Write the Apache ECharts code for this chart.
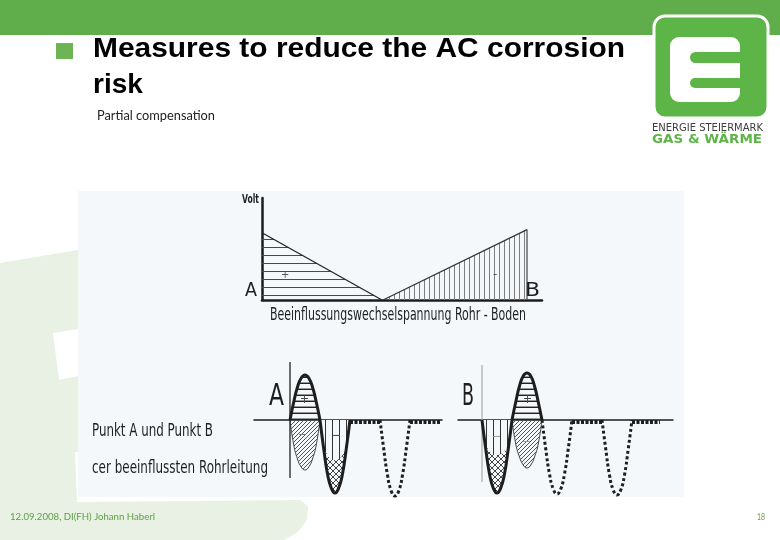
<!DOCTYPE html>
<html><head><meta charset="utf-8">
<script src="https://cdn.jsdelivr.net/npm/echarts@6/dist/echarts.min.js"></script>
<style>html,body{margin:0;padding:0;background:#fff}#c{width:780px;height:540px}</style>
</head><body><div id="c"></div>
<script>
// ---------- DATA ----------
// Top diagram: AC voltage pipe-soil along the pipeline (A -> B)
const distLeft = [0, 12];
const voltLeft = [6.6, 0];
const distRight = [12.1, 26.5];
const voltRight = [0, 6.9];
const distEnd = [26.5, 26.5];
const voltEnd = [0, 6.9];

// Bottom diagrams: half-wave sample positions (in half-period units)
const slot0 = [0, 0.125, 0.25, 0.375, 0.5, 0.625, 0.75, 0.875, 1];
const slot1 = [1, 1.125, 1.25, 1.375, 1.5, 1.625, 1.75, 1.875, 2];
const slot2 = [2, 2.125, 2.25, 2.375, 2.5, 2.625, 2.75, 2.875, 3];
const slot3 = [3, 3.125, 3.25, 3.375, 3.5, 3.625, 3.75, 3.875, 4];
const slot4 = [4, 4.125, 4.25, 4.375, 4.5, 4.625, 4.75, 4.875, 5];

// Point A
const aPlus       = [0, 18, 33, 42, 45, 42, 33, 18, 0];
const aComp       = [0, -25, -39, -47, -50, -47, -39, -25, 0];
const aMinus      = [0, -29, -54, -68, -73, -68, -54, -29, 0];
const aMinusUpper = [0, -26, -35, -39, -40, -39, -35, -26, 0];
const aDotMinus   = [0, -29, -55, -71, -76, -71, -55, -29, 0];
const aFlat1X = [2, 3],    aFlat1 = [-2, -2];
const aFlat2X = [4, 5.05], aFlat2 = [-2, -2];
const aAxisX = [0, 0], aAxisY = [58, -58];

// Point B
const bMinus      = [0, -29, -54, -68, -73, -68, -54, -29, 0];
const bMinusUpper = [0, -24, -31, -34, -35, -34, -31, -24, 0];
const bPlus       = [0, 18, 34, 44, 47, 44, 34, 18, 0];
const bComp       = [0, -24, -37, -45, -48, -45, -37, -24, 0];
const bDotMinus1  = [0, -29, -54, -69, -74, -69, -54, -29, 0];
const bDotMinus2  = [0, -29, -55, -70, -75, -70, -55, -29, 0];
const bFlat1X = [3, 4],    bFlat1 = [-2, -2];
const bFlat2X = [5, 5.93], bFlat2 = [-2, -2];
const bAxisX = [0, 0], bAxisY = [55, -62];

// ---------- helpers ----------
const SCAN_BG = '#f4f8fa';
function pts(xs, ys) { return xs.map((x, i) => [x, ys[i]]); }
function pattern(w, h, draw) {
  const c = document.createElement('canvas'); c.width = w; c.height = h;
  const g = c.getContext('2d'); draw(g, w, h);
  return { image: c, repeat: 'repeat' };
}
const hTop = pattern(8, 8, g => { g.fillStyle = '#4a4a4a'; g.fillRect(0, 7, 8, 1); });
const vTop = pattern(5, 5, g => { g.fillStyle = '#7d7d7d'; g.fillRect(4, 0, 1, 5); });
const hLobe = pattern(6, 6, g => { g.fillStyle = '#222'; g.fillRect(0, 5, 6, 1); g.fillStyle = '#999'; g.fillRect(0, 4, 6, 1); });
const diag = pattern(4, 4, g => { g.strokeStyle = '#555'; g.lineWidth = 1; g.beginPath(); g.moveTo(-1, 5); g.lineTo(5, -1); g.moveTo(-1, 1); g.lineTo(1, -1); g.moveTo(3, 5); g.lineTo(5, 3); g.stroke(); });
const cross = pattern(6, 6, g => { g.strokeStyle = '#444'; g.lineWidth = 1; g.beginPath();
  g.moveTo(-1, 7); g.lineTo(7, -1); g.moveTo(-1, -1); g.lineTo(7, 7); g.stroke(); });
const vLobe = pattern(7, 7, g => { g.fillStyle = SCAN_BG; g.fillRect(0, 0, 7, 7); g.fillStyle = '#333'; g.fillRect(3, 0, 1, 7); });

const mctx = document.createElement('canvas').getContext('2d');
function txt(text, x, y, font, fill, width, extra) {
  mctx.font = font;
  const w = mctx.measureText(text).width;
  return Object.assign({ type: 'text', x: x, y: y, scaleX: width ? width / w : 1, z: 50,
    style: { text: text, font: font, fill: fill, verticalAlign: 'middle', align: 'left' } }, extra || {});
}
const NARROW = '"Liberation Sans Narrow","DejaVu Sans Condensed",sans-serif';

function ln(xi, data, color, width, opts) {
  return Object.assign({ type: 'line', xAxisIndex: xi, yAxisIndex: xi, data: data, symbol: 'none',
    silent: true, lineStyle: { color: color, width: width }, z: 3 }, opts || {});
}
function area(xi, data, fill, opts) {
  return Object.assign({ type: 'line', xAxisIndex: xi, yAxisIndex: xi, data: data, symbol: 'none', smooth: true,
    silent: true, lineStyle: { width: 0, opacity: 0 }, areaStyle: { color: fill, opacity: 1 }, z: 2 }, opts || {});
}

const hiddenAxis = { axisTick: { show: false }, axisLabel: { show: false }, splitLine: { show: false } };

// ---------- chart ----------
const chart = echarts.init(document.getElementById('c'), null, { renderer: 'canvas' });
const PALE = '#e8f1e4';
const GREEN = '#60ae4b';

const option = {
  animation: false,
  backgroundColor: '#ffffff',
  grid: [
    { left: 262, top: 198, width: 280, height: 102 },
    { left: 254, top: 360, width: 188, height: 140 },
    { left: 458, top: 360, width: 215, height: 140 }
  ],
  xAxis: [
    Object.assign({ gridIndex: 0, type: 'value', min: 0, max: 28, axisLine: { show: true, onZero: false, lineStyle: { color: '#1c1c1c', width: 2.5 } } }, hiddenAxis),
    Object.assign({ gridIndex: 1, type: 'value', min: -1.2, max: 5.067, axisLine: { show: true, onZero: true, lineStyle: { color: '#1c1c1c', width: 1.5 } } }, hiddenAxis),
    Object.assign({ gridIndex: 2, type: 'value', min: -0.8, max: 6.367, axisLine: { show: true, onZero: true, lineStyle: { color: '#1c1c1c', width: 1.5 } } }, hiddenAxis)
  ],
  yAxis: [
    Object.assign({ gridIndex: 0, type: 'value', min: 0, max: 10, axisLine: { show: true, onZero: false, lineStyle: { color: '#1c1c1c', width: 2.5 } } }, hiddenAxis),
    Object.assign({ gridIndex: 1, type: 'value', min: -80, max: 60, axisLine: { show: false } }, hiddenAxis),
    Object.assign({ gridIndex: 2, type: 'value', min: -80, max: 60, axisLine: { show: false } }, hiddenAxis)
  ],
  series: [
    // top diagram
    ln(0, pts(distLeft, voltLeft), '#222', 1.2, { areaStyle: { color: hTop, opacity: 1 } }),
    ln(0, pts(distRight, voltRight), '#333', 1.2, { areaStyle: { color: vTop, opacity: 1 } }),
    ln(0, pts(distEnd, voltEnd), '#444', 1.2),
    // Point A
    area(1, pts(slot0, aComp), diag, { lineStyle: { color: '#444', width: 1 } }),
    area(1, pts(slot1, aMinus), cross),
    area(1, pts(slot1, aMinusUpper), vLobe, { z: 3 }),
    area(1, pts(slot0, aPlus), hLobe, { z: 3 }),
    ln(1, pts(slot0, aPlus), '#1e1e1e', 3, { smooth: true, z: 5 }),
    ln(1, pts(slot1, aMinus), '#1e1e1e', 3, { smooth: true, z: 5 }),
    ln(1, pts(aFlat1X, aFlat1), '#1e1e1e', 4, { z: 5, lineStyle: { color: '#1e1e1e', width: 4, type: [3, 1.5] } }),
    ln(1, pts(slot3, aDotMinus), '#1e1e1e', 3, { smooth: true, z: 5, lineStyle: { color: '#1e1e1e', width: 3, type: [3, 2.5] } }),
    ln(1, pts(aFlat2X, aFlat2), '#1e1e1e', 4, { z: 5, lineStyle: { color: '#1e1e1e', width: 4, type: [3, 1.5] } }),
    ln(1, pts(aAxisX, aAxisY), '#222', 1.3, { z: 4 }),
    // Point B
    area(2, pts(slot0, bMinus), cross),
    area(2, pts(slot0, bMinusUpper), vLobe, { z: 3 }),
    area(2, pts(slot1, bComp), diag, { lineStyle: { color: '#444', width: 1 } }),
    area(2, pts(slot1, bPlus), hLobe, { z: 3 }),
    ln(2, pts(slot0, bMinus), '#1e1e1e', 3, { smooth: true, z: 5 }),
    ln(2, pts(slot1, bPlus), '#1e1e1e', 3, { smooth: true, z: 5 }),
    ln(2, pts(slot2, bDotMinus1), '#1e1e1e', 3, { smooth: true, z: 5, lineStyle: { color: '#1e1e1e', width: 3, type: [3, 2.5] } }),
    ln(2, pts(bFlat1X, bFlat1), '#1e1e1e', 4, { z: 5, lineStyle: { color: '#1e1e1e', width: 4, type: [3, 1.5] } }),
    ln(2, pts(slot4, bDotMinus2), '#1e1e1e', 3, { smooth: true, z: 5, lineStyle: { color: '#1e1e1e', width: 3, type: [3, 2.5] } }),
    ln(2, pts(bFlat2X, bFlat2), '#1e1e1e', 4, { z: 5, lineStyle: { color: '#1e1e1e', width: 4, type: [3, 1.5] } }),
    ln(2, pts(bAxisX, bAxisY), '#aaaaaa', 1.2, { z: 1 })
  ],
  graphic: [
    // slide decoration
    { type: 'polygon', z: -30, shape: { points: [[0, 263], [78, 250], [78, 540], [0, 540]] }, style: { fill: PALE } },
    { type: 'polygon', z: -30, shape: { points: [[78, 502], [300, 500], [308, 506], [307, 520], [298, 532], [284, 540], [78, 540]] }, style: { fill: PALE } },
    { type: 'polygon', z: -29, shape: { points: [[53, 333], [78, 329], [78, 376], [59, 380]] }, style: { fill: '#ffffff' } },
    { type: 'polygon', z: -29, shape: { points: [[75, 452], [78, 452], [78, 502], [77, 502]] }, style: { fill: '#ffffff' } },
    { type: 'rect', z: -25, shape: { x: 78, y: 191, width: 606, height: 306 }, style: { fill: SCAN_BG } },
    { type: 'rect', z: -20, shape: { x: 0, y: 0, width: 780, height: 35 }, style: { fill: GREEN } },
    // logo
    { type: 'rect', z: 40, shape: { x: 654, y: 16, width: 114, height: 102, r: 11 }, style: { fill: '#5db547', stroke: '#ffffff', lineWidth: 3 } },
    { type: 'rect', z: 41, shape: { x: 670, y: 37, width: 70, height: 65, r: 9 }, style: { fill: '#ffffff' } },
    { type: 'rect', z: 42, shape: { x: 690, y: 52, width: 56, height: 11, r: 5.5 }, style: { fill: '#5db547' } },
    { type: 'rect', z: 42, shape: { x: 690, y: 78, width: 56, height: 10, r: 5 }, style: { fill: '#5db547' } },
    txt('ENERGIE STEIERMARK', 652, 128, '10px "DejaVu Sans Condensed",sans-serif', '#3c3c3c', 111),
    txt('GAS & WÄRME', 652, 140, 'bold 13px "DejaVu Sans",sans-serif', '#5db547', 110),
    // title
    { type: 'rect', z: 10, shape: { x: 56, y: 43, width: 17, height: 16 }, style: { fill: '#6db455' } },
    txt('Measures to reduce the AC corrosion', 93, 49, 'bold 28px "Liberation Sans",Arial,sans-serif', '#000', 532),
    txt('risk', 93, 85, 'bold 28px "Liberation Sans",Arial,sans-serif', '#000', 0),
    txt('Partial compensation', 97, 116, '13px Lato,sans-serif', '#222', 118),
    // footer
    txt('12.09.2008, DI(FH) Johann Haberl', 10, 517, '10px Lato,sans-serif', '#5f9f45', 145),
    txt('18', 757, 517, '10px Lato,sans-serif', '#5f9f45', 8),
    // scan labels
    txt('Volt', 242, 200, 'bold 12px ' + NARROW, '#1e1e1e', 17),
    txt('A', 245, 291.5, '19px ' + NARROW, '#1e1e1e', 12),
    txt('B', 525, 291.5, '19px ' + NARROW, '#1e1e1e', 15),
    txt('+', 281, 275, '11px ' + NARROW, '#555', 0),
    txt('-', 493, 275, '13px ' + NARROW, '#555', 0),
    txt('Beeinflussungswechselspannung Rohr - Boden', 270, 315, '18px ' + NARROW, '#1e1e1e', 256),
    txt('Punkt A und Punkt B', 92, 431, '18px ' + NARROW, '#1e1e1e', 121),
    txt('cer beeinflussten Rohrleitung', 92, 468, '18px ' + NARROW, '#1e1e1e', 176),
    txt('A', 269, 397, '31px ' + NARROW, '#1e1e1e', 15),
    txt('B', 462, 397, '31px ' + NARROW, '#1e1e1e', 12),
    txt('+', 300, 400, '12px ' + NARROW, '#444', 0),
    txt('+', 523, 400, '12px ' + NARROW, '#444', 0),
    txt('−', 298, 435, '12px ' + NARROW, '#777', 0),
    txt('−', 332, 436, '12px ' + NARROW, '#444', 0),
    txt('−', 492, 437, '12px ' + NARROW, '#999', 0),
    txt('−', 522, 442, '12px ' + NARROW, '#999', 0)
  ]
};
chart.setOption(option);
</script>
</body></html>
